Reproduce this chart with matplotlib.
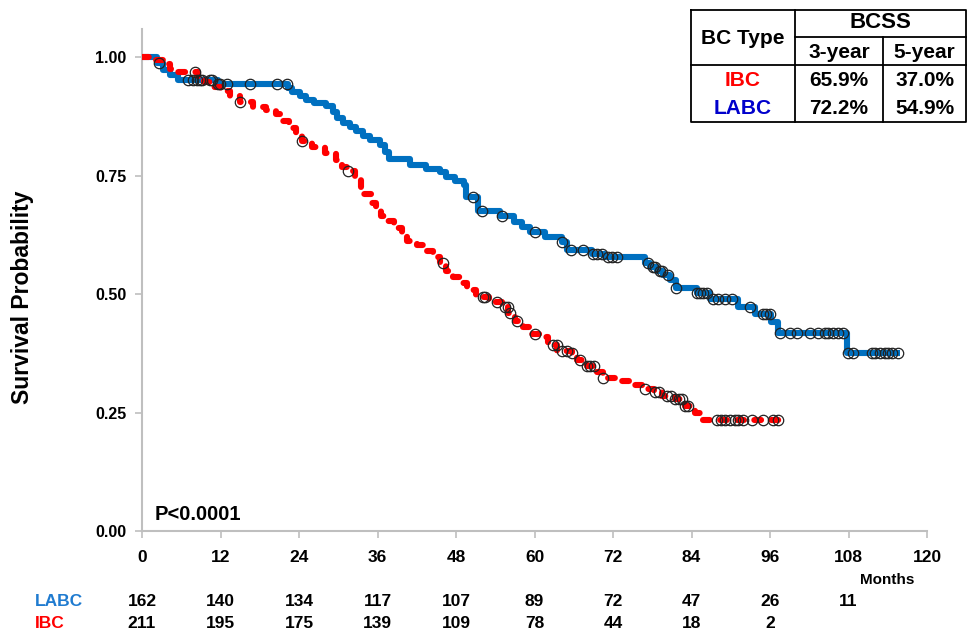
import numpy as np
import matplotlib
matplotlib.use('Agg')
import matplotlib.pyplot as plt
import matplotlib.transforms as mtransforms

plt.rcParams['font.family'] = ['Liberation Sans', 'DejaVu Sans']
plt.rcParams['font.weight'] = 'bold'

# LABC (blue) KM steps: time of drop, survival after drop; last point = end of follow-up
labc_t = [0, 2.3, 3.2, 4.3, 5.5, 11.6, 22.3, 22.9, 24.2, 25.1, 26.3, 28.1, 29.2, 29.8,
          30.7, 31.8, 32.7, 33.8, 34.9, 36.4, 37.1, 37.8, 41.0, 43.4, 45.6, 46.5, 47.8,
          49.2, 49.5, 51.4, 54.7, 56.9, 58.1, 59.3, 61.6, 64.2, 65.0, 68.8, 70.8, 76.9,
          77.7, 78.7, 79.6, 80.7, 81.6, 84.8, 86.8, 91.1, 93.7, 96.1, 97.2, 107.8, 115.9]
labc_s = [1.000, 0.987, 0.973, 0.962, 0.951, 0.943, 0.935, 0.926, 0.918, 0.909, 0.903,
          0.897, 0.884, 0.871, 0.861, 0.852, 0.844, 0.833, 0.825, 0.814, 0.799, 0.785,
          0.772, 0.764, 0.757, 0.747, 0.738, 0.730, 0.705, 0.675, 0.665, 0.652, 0.641,
          0.631, 0.620, 0.610, 0.593, 0.585, 0.578, 0.565, 0.557, 0.549, 0.540, 0.530,
          0.513, 0.502, 0.489, 0.473, 0.458, 0.441, 0.418, 0.3755, 0.3755]
labc_cens = [2.6, 7.0, 7.8, 8.4, 8.9, 9.2, 10.4, 10.7, 11.6, 11.9, 13.0, 16.5, 20.6, 22.2,
             50.6, 52.0, 55.0, 60.1, 64.2, 65.6, 67.4, 68.9, 69.6, 70.3, 71.2, 71.9, 72.6,
             77.3, 78.1, 78.4, 79.2, 79.5, 80.4, 81.7, 84.8, 85.3, 85.8, 86.4, 87.3, 88.0,
             89.1, 90.2, 92.9, 94.9, 95.4, 96.0, 97.5, 99.1, 100.1, 102.1, 103.3, 104.4,
             104.9, 105.6, 106.4, 107.2, 107.9, 108.7, 111.6, 112.0, 112.8, 113.6, 114.0,
             114.6, 115.6]

# IBC (red)
ibc_t = [0, 1.0, 3.5, 4.3, 5.5, 8.5, 9.5, 10.5, 12.0, 13.5, 15.0, 17.0, 19.0, 20.5, 21.5,
         22.5, 23.5, 24.5, 26.0, 28.0, 29.7, 30.5, 31.5, 32.5, 33.5, 34.0, 35.0, 35.7, 36.5,
         37.5, 38.5, 39.7, 40.5, 42.0, 43.5, 44.5, 45.5, 46.5, 47.5, 48.7, 49.7, 51.0, 53.0,
         55.0, 56.0, 57.0, 58.2, 59.3, 61.5, 62.0, 63.5, 65.7, 66.5, 68.0, 69.5, 70.5, 72.5,
         74.5, 76.5, 78.3, 79.5, 81.5, 83.0, 84.5, 85.5, 97.5]
ibc_s = [1.000, 0.994, 0.985, 0.975, 0.968, 0.958, 0.947, 0.937, 0.928, 0.918, 0.905,
         0.895, 0.888, 0.880, 0.865, 0.851, 0.837, 0.823, 0.810, 0.797, 0.783, 0.768,
         0.759, 0.742, 0.726, 0.710, 0.692, 0.675, 0.664, 0.654, 0.639, 0.624, 0.612,
         0.603, 0.591, 0.578, 0.565, 0.549, 0.536, 0.523, 0.509, 0.494, 0.483, 0.473,
         0.460, 0.443, 0.430, 0.416, 0.409, 0.392, 0.380, 0.375, 0.361, 0.349, 0.335,
         0.323, 0.316, 0.308, 0.300, 0.293, 0.285, 0.278, 0.264, 0.249, 0.234, 0.234]
ibc_cens = [8.1, 15.0, 24.5, 31.5, 46.0, 52.1, 52.4, 54.3, 55.5, 55.9, 56.3, 57.3, 60.1,
            62.8, 63.4, 64.2, 65.0, 65.7, 67.0, 68.0, 68.5, 69.1, 70.5, 76.9, 78.4, 79.0,
            80.3, 80.9, 81.5, 82.1, 82.6, 83.0, 83.5, 87.9, 88.5, 89.1, 89.9, 90.6, 91.1,
            91.9, 93.2, 94.9, 96.5, 97.2]

risk_months = [0, 12, 24, 36, 48, 60, 72, 84, 96, 108]
labc_risk = [162, 140, 134, 117, 107, 89, 72, 47, 26, 11]
ibc_risk = [211, 195, 175, 139, 109, 78, 44, 18, 2]

table_rows = ['IBC', 'LABC']
bcss_3yr = ['65.9%', '72.2%']
bcss_5yr = ['37.0%', '54.9%']

BLUE = '#0070C0'
RED = '#FF0000'


def surv_at(times, surv, t):
    i = np.searchsorted(times, t, side='right') - 1
    return np.asarray(surv)[i]


W, H = 973, 637
fig = plt.figure(figsize=(W / 100, H / 100), dpi=100)
ax = fig.add_axes([142 / W, 1 - 531 / H, 785 / W, (531 - 28.6) / H])

ax.step(labc_t, labc_s, where='post', color=BLUE, lw=4.4, solid_capstyle='butt', zorder=2)
ax.step(ibc_t, ibc_s, where='post', color=RED, lw=4.4, linestyle=(0, (1.1, 1.7)),
        dash_capstyle='round', zorder=3)
ax.plot(labc_cens, surv_at(labc_t, labc_s, labc_cens), 'o', ms=7.5, mfc='none',
        mec='#222222', mew=0.9, zorder=4)
ax.plot(ibc_cens, surv_at(ibc_t, ibc_s, ibc_cens), 'o', ms=7.5, mfc='none',
        mec='#222222', mew=0.9, zorder=4)

ax.set_xlim(0, 120)
ax.set_ylim(0, 1.06)
ax.set_xticks(range(0, 121, 12))
ax.set_yticks([0, 0.25, 0.5, 0.75, 1.0])
ax.set_yticklabels(['0.00', '0.25', '0.50', '0.75', '1.00'])
for s in ['top', 'right']:
    ax.spines[s].set_visible(False)
for s in ['left', 'bottom']:
    ax.spines[s].set_color('#BFBFBF')
    ax.spines[s].set_linewidth(1.5)
ax.tick_params(axis='both', colors='#BFBFBF', length=5, width=1.2, labelcolor='black')
ax.tick_params(axis='y', labelsize=11.5, pad=6)
ax.tick_params(axis='x', labelsize=12.5, pad=9)
for lab in ax.get_xticklabels() + ax.get_yticklabels():
    lab.set_fontweight('bold')

ax.set_ylabel('Survival Probability', fontsize=16.5, fontweight='bold')
ax.yaxis.set_label_coords(-0.137, 0.466)

ax.text(2.0, 0.035, 'P<0.0001', fontsize=14.5, fontweight='bold', va='center', ha='left')

fig.text(887 / W, 1 - 580 / H, 'Months', fontsize=11, fontweight='bold',
         ha='center', va='center')

# number at risk
trans = mtransforms.blended_transform_factory(ax.transData, fig.transFigure)
fig.text(35 / W, 1 - 602 / H, 'LABC', color='#1F7BD0', fontsize=12.5, fontweight='bold',
         ha='left', va='center')
fig.text(35 / W, 1 - 623 / H, 'IBC', color=RED, fontsize=12.5, fontweight='bold',
         ha='left', va='center')
for m, n in zip(risk_months, labc_risk):
    ax.text(m, 1 - 602 / H, str(n), transform=trans, fontsize=12.5, fontweight='bold',
            ha='center', va='center', clip_on=False)
for m, n in zip(risk_months, ibc_risk):
    ax.text(m, 1 - 623 / H, str(n), transform=trans, fontsize=12.5, fontweight='bold',
            ha='center', va='center', clip_on=False)

# BCSS table, drawn in pixel coordinates
tb = fig.add_axes([0, 0, 1, 1], facecolor='none')
tb.set_xlim(0, W)
tb.set_ylim(H, 0)
tb.axis('off')
L, R, T, B = 691, 966, 10, 122
c1, c2, r1, r2 = 795, 883, 37, 65
kw = dict(color='black', lw=1.3, solid_capstyle='projecting')
tb.plot([L, R, R, L, L], [T, T, B, B, T], **kw)
tb.plot([c1, c1], [T, B], **kw)
tb.plot([c1, R], [r1, r1], **kw)
tb.plot([c2, c2], [r1, B], **kw)
tb.plot([L, R], [r2, r2], **kw)
tfs = 15
tb.text((L + c1) / 2, r1 + 1, 'BC Type', fontsize=tfs, ha='center', va='center')
tb.text((c1 + R) / 2, 23, 'BCSS', fontsize=tfs + 1, ha='center', va='center')
tb.text((c1 + c2) / 2, 52, '3-year', fontsize=tfs, ha='center', va='center')
tb.text((c2 + R) / 2, 52, '5-year', fontsize=tfs, ha='center', va='center')
for i, (name, v3, v5) in enumerate(zip(table_rows, bcss_3yr, bcss_5yr)):
    y = 80 + i * 28
    tb.text((L + c1) / 2, y, name, fontsize=tfs, ha='center', va='center',
            color=RED if name == 'IBC' else '#0000CC')
    tb.text((c1 + c2) / 2, y, v3, fontsize=tfs, ha='center', va='center')
    tb.text((c2 + R) / 2, y, v5, fontsize=tfs, ha='center', va='center')

fig.savefig('out.png', dpi=100, facecolor='white')
